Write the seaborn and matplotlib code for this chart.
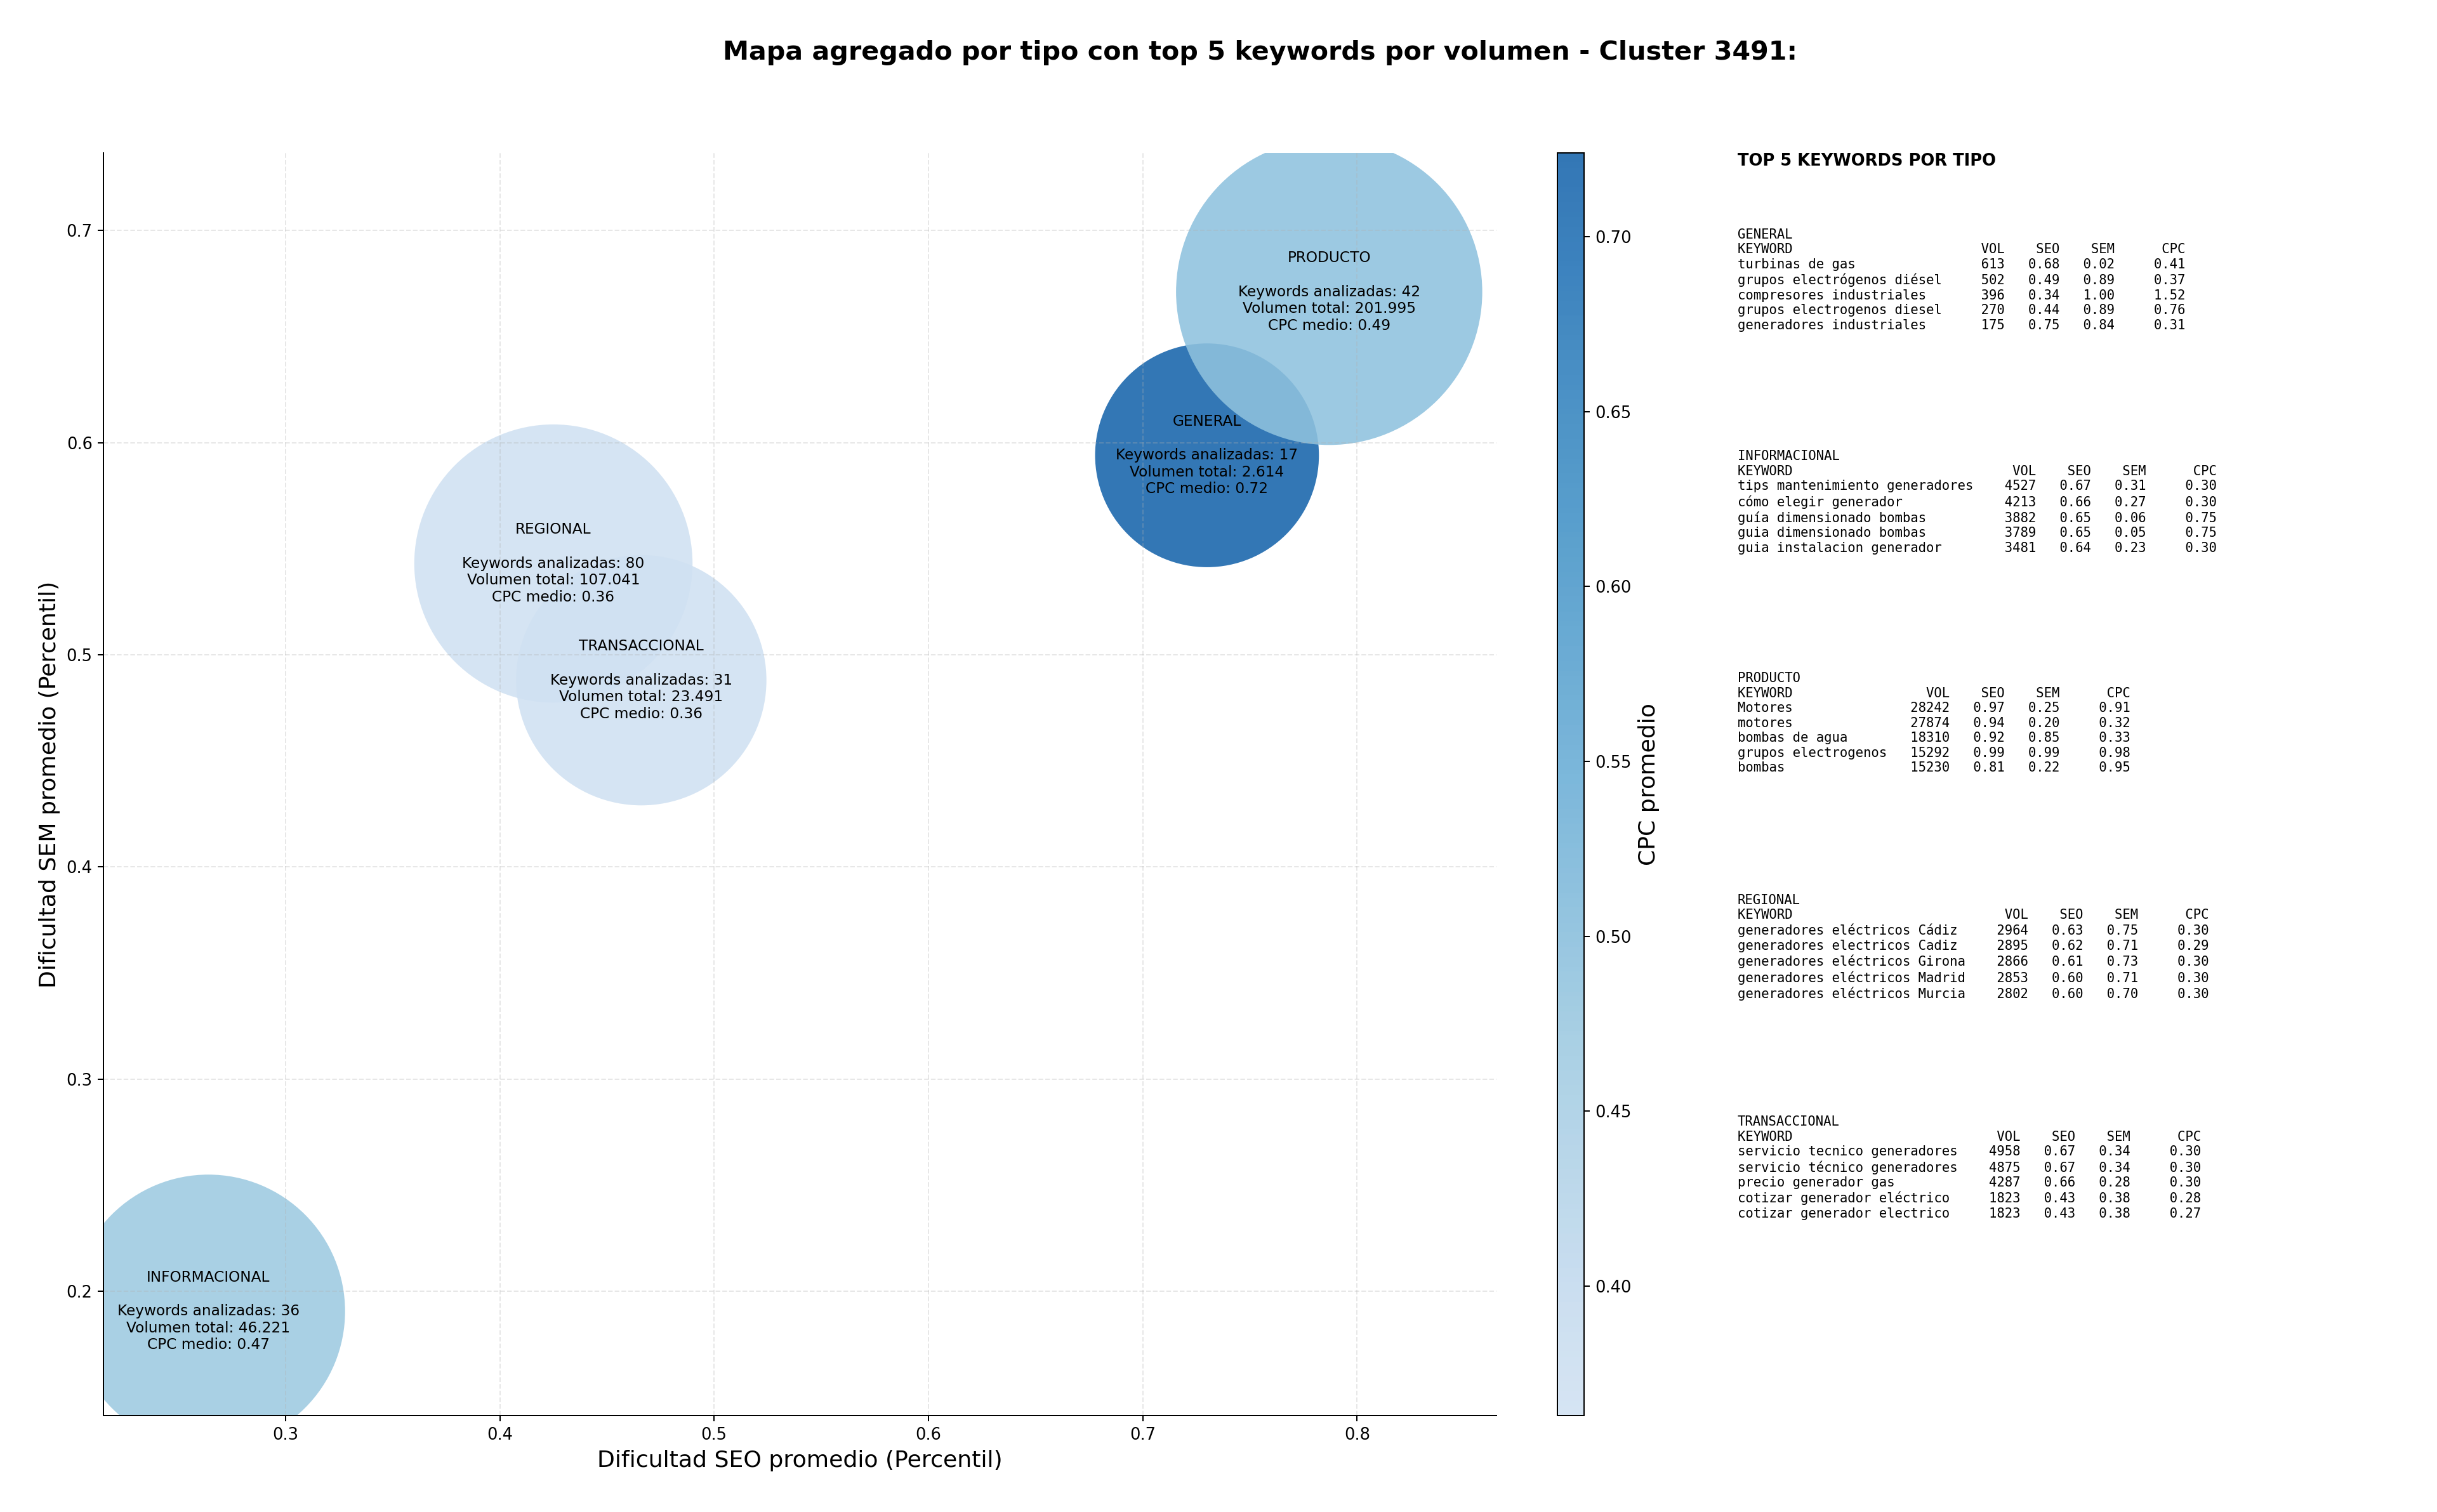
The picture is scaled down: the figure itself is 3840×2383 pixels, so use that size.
import numpy as np
import pandas as pd
import matplotlib
matplotlib.use('Agg')
import matplotlib.pyplot as plt
import seaborn as sns
from matplotlib.colors import LinearSegmentedColormap, Normalize
from matplotlib.cm import ScalarMappable

# datos agregados por tipo
tipos = ['GENERAL', 'INFORMACIONAL', 'PRODUCTO', 'REGIONAL', 'TRANSACCIONAL']
seo_prom = [0.730, 0.264, 0.787, 0.425, 0.466]
sem_prom = [0.594, 0.1906, 0.671, 0.543, 0.488]
n_keywords = [17, 36, 42, 80, 31]
vol_total = [2614, 46221, 201995, 107041, 23491]
cpc_medio = [0.724, 0.47, 0.49, 0.363, 0.364]
tamano_burbuja = [19900, 29700, 37250, 30760, 24900]

# top 5 keywords por tipo: (keyword, vol, seo, sem, cpc)
top_general = [
    ('turbinas de gas', 613, 0.68, 0.02, 0.41),
    ('grupos electrógenos diésel', 502, 0.49, 0.89, 0.37),
    ('compresores industriales', 396, 0.34, 1.00, 1.52),
    ('grupos electrogenos diesel', 270, 0.44, 0.89, 0.76),
    ('generadores industriales', 175, 0.75, 0.84, 0.31),
]
top_informacional = [
    ('tips mantenimiento generadores', 4527, 0.67, 0.31, 0.30),
    ('cómo elegir generador', 4213, 0.66, 0.27, 0.30),
    ('guía dimensionado bombas', 3882, 0.65, 0.06, 0.75),
    ('guia dimensionado bombas', 3789, 0.65, 0.05, 0.75),
    ('guia instalacion generador', 3481, 0.64, 0.23, 0.30),
]
top_producto = [
    ('Motores', 28242, 0.97, 0.25, 0.91),
    ('motores', 27874, 0.94, 0.20, 0.32),
    ('bombas de agua', 18310, 0.92, 0.85, 0.33),
    ('grupos electrogenos', 15292, 0.99, 0.99, 0.98),
    ('bombas', 15230, 0.81, 0.22, 0.95),
]
top_regional = [
    ('generadores eléctricos Cádiz', 2964, 0.63, 0.75, 0.30),
    ('generadores electricos Cadiz', 2895, 0.62, 0.71, 0.29),
    ('generadores eléctricos Girona', 2866, 0.61, 0.73, 0.30),
    ('generadores eléctricos Madrid', 2853, 0.60, 0.71, 0.30),
    ('generadores eléctricos Murcia', 2802, 0.60, 0.70, 0.30),
]
top_transaccional = [
    ('servicio tecnico generadores', 4958, 0.67, 0.34, 0.30),
    ('servicio técnico generadores', 4875, 0.67, 0.34, 0.30),
    ('precio generador gas', 4287, 0.66, 0.28, 0.30),
    ('cotizar generador eléctrico', 1823, 0.43, 0.38, 0.28),
    ('cotizar generador electrico', 1823, 0.43, 0.38, 0.27),
]
tops = [top_general, top_informacional, top_producto, top_regional, top_transaccional]

df = pd.DataFrame({
    'tipo': tipos,
    'seo': seo_prom,
    'sem': sem_prom,
    'n': n_keywords,
    'vol': vol_total,
    'cpc': cpc_medio,
})

plt.rcParams['font.family'] = 'DejaVu Sans'
ALPHA = 0.88

fig = plt.figure(figsize=(3840 / 180, 2383 / 180), dpi=180)
ax = fig.add_axes([0.0425, 0.0637, 0.5715, 0.8353])
cax = fig.add_axes([0.639, 0.0637, 0.011, 0.8353])

blues = plt.get_cmap('Blues')
cmap = LinearSegmentedColormap.from_list('blues_mid', blues(np.linspace(0.2, 0.8, 256)))
norm = Normalize(vmin=df['cpc'].min(), vmax=df['cpc'].max())

sns.scatterplot(
    data=df, x='seo', y='sem',
    hue='cpc', palette=cmap, hue_norm=norm,
    s=tamano_burbuja, alpha=ALPHA, edgecolor='none',
    legend=False, ax=ax
)

for _, r in df.iterrows():
    vol_txt = f"{r['vol']:,}".replace(',', '.')
    txt = f"{r['tipo']}\n\nKeywords analizadas: {r['n']}\nVolumen total: {vol_txt}\nCPC medio: {r['cpc']:.2f}"
    ax.text(r['seo'], r['sem'], txt, ha='center', va='center', fontsize=9.3, zorder=5)

ax.set_xlim(0.2151, 0.865)
ax.set_ylim(0.1414, 0.7366)
ax.set_xticks([0.3, 0.4, 0.5, 0.6, 0.7, 0.8])
ax.set_yticks([0.2, 0.3, 0.4, 0.5, 0.6, 0.7])
ax.tick_params(labelsize=10.3)
ax.grid(True, linestyle='--', alpha=0.3)
ax.set_axisbelow('line')
sns.despine(ax=ax)
ax.set_xlabel('Dificultad SEO promedio (Percentil)', fontsize=14.5)
ax.set_ylabel('Dificultad SEM promedio (Percentil)', fontsize=14.5)

# colorbar con la misma transparencia que las burbujas
cols = cmap(np.linspace(0, 1, 256))
cols[:, 3] = ALPHA
cmap_cb = LinearSegmentedColormap.from_list('blues_mid_a', cols)
sm = ScalarMappable(norm=norm, cmap=cmap_cb)
cb = fig.colorbar(sm, cax=cax)
cb.set_label('CPC promedio', fontsize=14.5)
cb.ax.tick_params(labelsize=10.3)

fig.text(0.517, 0.965, 'Mapa agregado por tipo con top 5 keywords por volumen - Cluster 3491:',
         ha='center', va='center', fontsize=16.5, fontweight='bold')

# panel de texto con las tablas
fig.text(0.713, 0.899, 'TOP 5 KEYWORDS POR TIPO', ha='left', va='top',
         fontsize=10.3, fontweight='bold')

def tabla(nombre, filas):
    w = max(len(f[0]) for f in filas) + 2
    lineas = [nombre, f"{'KEYWORD':<{w}}{'VOL':>6}{'SEO':>7}{'SEM':>7}{'CPC':>9}"]
    for kw, vol, seo, sem, cpc in filas:
        lineas.append(f"{kw:<{w}}{vol:>6}{seo:>7.2f}{sem:>7.2f}{cpc:>9.2f}")
    return '\n'.join(lineas)

for i, (tipo, filas) in enumerate(zip(tipos, tops)):
    fig.text(0.713, 0.849 - i * 0.1467, tabla(tipo, filas), ha='left', va='top',
             fontsize=8.25, family='DejaVu Sans Mono', linespacing=1.22)

fig.savefig('out.png', dpi=180)
